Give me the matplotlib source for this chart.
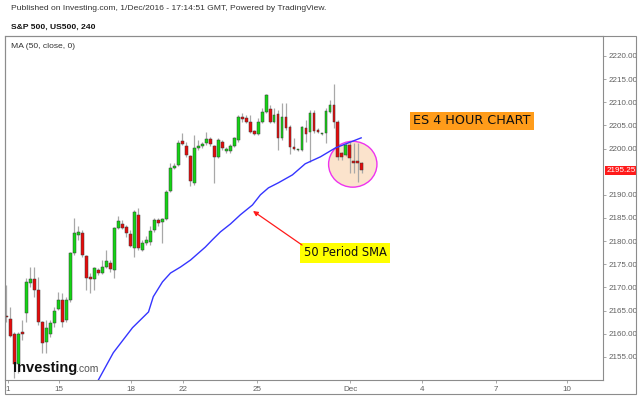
import matplotlib
matplotlib.use("Agg")
import matplotlib.pyplot as plt
from matplotlib.patches import Rectangle, Ellipse
import matplotlib.transforms as mtransforms

# 4h candles, S&P 500 (US500)
opens = [2163.8, 2163.2, 2160.0, 2153.5, 2160.4, 2164.5, 2171.0, 2171.8, 2169.5, 2162.5,
         2158.2, 2160.0, 2162.3, 2165.4, 2167.3, 2163.0, 2167.3, 2177.5, 2181.3, 2181.8,
         2176.8, 2172.1, 2171.8, 2173.8, 2173.1, 2174.4, 2175.3, 2173.8, 2182.9, 2183.7,
         2183.1, 2181.6, 2178.5, 2185.7, 2178.1, 2179.6, 2179.8, 2182.4, 2184.6, 2184.1,
         2184.8, 2190.8, 2195.8, 2196.5, 2201.6, 2200.6, 2198.4, 2192.6, 2200.1, 2200.6,
         2201.2, 2202.1, 2200.6, 2198.2, 2201.4, 2199.5, 2199.5, 2200.6, 2201.9, 2206.8,
         2206.6, 2205.7, 2203.8, 2203.2, 2205.7, 2207.9, 2208.6, 2205.7, 2207.5, 2202.3,
         2206.8, 2204.7, 2200.3, 2199.6, 2199.7, 2204.5, 2203.6, 2207.7, 2204.0, 2203.1,
         2203.4, 2207.9, 2209.4, 2205.7, 2199.0, 2198.6, 2200.8, 2197.3, 2197.1, 2196.9]
highs = [2170.5, 2165.8, 2160.3, 2160.4, 2163.0, 2172.0, 2174.4, 2174.4, 2172.3, 2162.8,
         2163.0, 2163.0, 2165.8, 2169.0, 2168.8, 2167.9, 2177.7, 2185.0, 2183.3, 2182.4,
         2177.0, 2173.1, 2174.4, 2174.2, 2176.0, 2178.1, 2176.0, 2183.1, 2185.4, 2184.6,
         2183.5, 2182.4, 2186.7, 2187.2, 2180.3, 2181.0, 2183.3, 2185.0, 2185.0, 2185.0,
         2191.0, 2196.9, 2196.9, 2201.9, 2203.4, 2201.4, 2198.6, 2202.9, 2201.9, 2201.4,
         2203.6, 2202.5, 2200.8, 2202.3, 2201.9, 2200.3, 2201.0, 2202.5, 2207.3, 2207.7,
         2207.3, 2207.3, 2204.0, 2206.6, 2208.8, 2211.8, 2209.4, 2208.8, 2208.3, 2209.8,
         2209.8, 2205.1, 2202.3, 2199.9, 2204.9, 2206.2, 2208.3, 2208.3, 2204.5, 2203.4,
         2208.8, 2210.5, 2214.0, 2206.2, 2199.3, 2201.2, 2201.4, 2201.2, 2201.2, 2197.1]
lows = [2162.5, 2159.3, 2150.5, 2151.5, 2158.7, 2162.5, 2170.1, 2167.9, 2161.9, 2155.9,
        2155.9, 2159.3, 2161.5, 2165.1, 2161.5, 2162.5, 2166.9, 2177.0, 2180.3, 2176.6,
        2169.5, 2168.8, 2169.5, 2172.7, 2172.9, 2174.2, 2173.4, 2172.1, 2182.6, 2182.6,
        2180.9, 2178.7, 2176.6, 2178.1, 2177.9, 2179.2, 2179.2, 2182.0, 2183.3, 2179.6,
        2184.6, 2190.6, 2195.6, 2196.2, 2200.8, 2198.2, 2191.9, 2192.1, 2199.7, 2200.1,
        2200.8, 2200.6, 2192.6, 2198.0, 2199.7, 2199.0, 2199.0, 2200.3, 2201.4, 2205.7,
        2205.5, 2203.4, 2202.9, 2202.9, 2205.5, 2207.7, 2205.5, 2205.5, 2199.7, 2201.9,
        2204.0, 2198.8, 2199.7, 2199.5, 2199.5, 2201.4, 2197.1, 2203.4, 2203.4, 2202.9,
        2201.2, 2207.7, 2204.5, 2197.5, 2197.5, 2198.4, 2194.7, 2194.7, 2192.8, 2194.7]
closes = [2163.5, 2159.5, 2153.5, 2160.0, 2159.9, 2171.2, 2171.8, 2169.5, 2162.5, 2158.0,
          2161.3, 2162.3, 2164.9, 2167.3, 2162.5, 2167.3, 2177.5, 2181.8, 2182.0, 2177.0,
          2172.1, 2171.8, 2174.2, 2173.1, 2174.4, 2175.7, 2174.0, 2182.9, 2184.4, 2182.9,
          2181.8, 2179.0, 2186.3, 2178.5, 2179.6, 2180.3, 2182.2, 2184.6, 2183.9, 2184.8,
          2190.6, 2195.8, 2196.2, 2201.2, 2201.0, 2198.6, 2193.0, 2200.1, 2200.3, 2201.0,
          2202.1, 2201.0, 2198.2, 2201.9, 2200.1, 2199.9, 2200.6, 2202.3, 2206.8, 2206.4,
          2205.7, 2203.6, 2203.2, 2205.7, 2207.9, 2211.5, 2205.7, 2207.3, 2202.3, 2206.8,
          2204.5, 2200.3, 2199.9, 2199.7, 2204.7, 2203.2, 2207.7, 2203.8, 2203.6, 2203.2,
          2208.1, 2209.4, 2205.7, 2198.2, 2198.2, 2200.8, 2198.0, 2196.9, 2196.9, 2195.25]

# 50-period SMA, points (candle index, price)
ma_idx = [22.8, 26.8, 31.6, 35.6, 36.8, 39.1, 41.1, 43.6, 46.1, 49.8, 51.6, 53.6,
          56.1, 58.6, 61.6, 63.6, 65.6, 68.1, 71.6, 74.8, 78.6, 82.3, 88.8]
ma_val = [2149.6, 2155.9, 2161.3, 2164.7, 2168.0, 2171.2, 2173.1, 2174.4, 2175.9, 2178.7,
          2180.3, 2182.0, 2183.7, 2185.7, 2187.8, 2190.0, 2191.5, 2192.6, 2194.3, 2196.7,
          2198.2, 2200.1, 2202.3]

tick_labels = ["1", "15", "18", "22", "25", "Dec", "4", "7", "10"]
tick_pos = [0.4, 13.1, 31.3, 44.3, 62.8, 86.1, 104.0, 122.6, 140.3]
yticks = [2155, 2160, 2165, 2170, 2175, 2180, 2185, 2190, 2200, 2205, 2210, 2215, 2220]

plt.rcParams["font.family"] = ["Liberation Sans", "DejaVu Sans"]

W, H = 640, 396
fig = plt.figure(figsize=(W / 100, H / 100), dpi=100)
fig.patch.set_facecolor("white")

def fx(px):
    return px / W

def fy(py):
    return 1 - py / H

ax = fig.add_axes([fx(5), fy(380), fx(603) - fx(5), fy(36) - fy(380)])

# candles
for i, (o, h, l, c) in enumerate(zip(opens, highs, lows, closes)):
    up = c >= o
    ax.plot([i, i], [l, h], color="#a8a8a8", lw=0.9, zorder=3, solid_capstyle="butt")
    body = max(abs(c - o), 0.35)
    ax.add_patch(Rectangle((i - 0.37, min(o, c)), 0.74, body,
                           facecolor="#14d414" if up else "#e60b0b",
                           edgecolor="#3a3a3a", lw=0.35, zorder=4))

ax.plot(ma_idx, ma_val, color="#3535ff", lw=1.0, zorder=5)

# highlight circle around the last candles
ax.add_patch(Ellipse((86.7, 2196.6), 12.1, 9.9, facecolor="#fbe3cc",
                     edgecolor="#ee33ee", lw=1.0, zorder=2))

ax.set_xlim(-0.3, 149.3)
ax.set_ylim(2150.0, 2224.3)

ax.yaxis.tick_right()
ax.set_yticks(yticks)
ax.set_yticklabels([f"{v:.2f}" for v in yticks])
ax.set_xticks(tick_pos)
ax.set_xticklabels(tick_labels)
ax.tick_params(axis="both", labelsize=5.8, colors="#9a9a9a", labelcolor="#606060",
               length=2.5, width=0.6, pad=1.5)
for s in ax.spines.values():
    s.set_color("#8c8c8c")
    s.set_linewidth(0.8)

# last price label
trans = mtransforms.blended_transform_factory(ax.transAxes, ax.transData)
ax.text(1.006, closes[-1], f"{closes[-1]:.2f}", transform=trans, ha="left", va="center",
        fontsize=5.8, color="white",
        bbox=dict(boxstyle="square,pad=0.18", facecolor="#ff1a1a", edgecolor="none"))

# annotations
ax.text(fx(472), fy(121), "ES 4 HOUR CHART", transform=fig.transFigure, ha="center",
        va="center", fontsize=9.2, family="DejaVu Sans", color="#111111", zorder=6,
        bbox=dict(boxstyle="square,pad=0.22", facecolor="#ff9c1a", edgecolor="none"))
ax.text(fx(345), fy(253), "50 Period SMA", transform=fig.transFigure, ha="center",
        va="center", fontsize=8.3, family="DejaVu Sans", color="#111111", zorder=6,
        bbox=dict(boxstyle="square,pad=0.3", facecolor="#ffff00", edgecolor="none"))
ax.annotate("", xy=(fx(253), fy(211)), xytext=(fx(302), fy(245)),
            xycoords="figure fraction", textcoords="figure fraction",
            arrowprops=dict(arrowstyle="-|>", color="#ff1a1a", lw=0.9,
                            mutation_scale=7, shrinkA=0, shrinkB=0), zorder=6)

fig.text(fx(11), fy(46), "MA (50, close, 0)", fontsize=6.1,
         color="#333333", ha="left", va="center")
fig.text(fx(11), fy(9), "Published on Investing.com, 1/Dec/2016 - 17:14:51 GMT, Powered by TradingView.",
         fontsize=6.1, color="#333333", ha="left", va="center")
fig.text(fx(11), fy(27), "S&P 500, US500, 240", fontsize=6.1, fontweight="bold",
         color="#111111", ha="left", va="center")

# logo
fig.text(fx(13), fy(368), "Investing", fontsize=10.5, fontweight="bold",
         color="#111111", ha="left", va="center")
fig.text(fx(76), fy(369), ".com", fontsize=7.5, color="#555555", ha="left", va="center")

# outer frame
fig.add_artist(Rectangle((fx(5), fy(394)), fx(636) - fx(5), fy(36) - fy(394),
                         transform=fig.transFigure, fill=False, edgecolor="#8c8c8c", lw=0.8))

fig.savefig("out.png", dpi=100)
